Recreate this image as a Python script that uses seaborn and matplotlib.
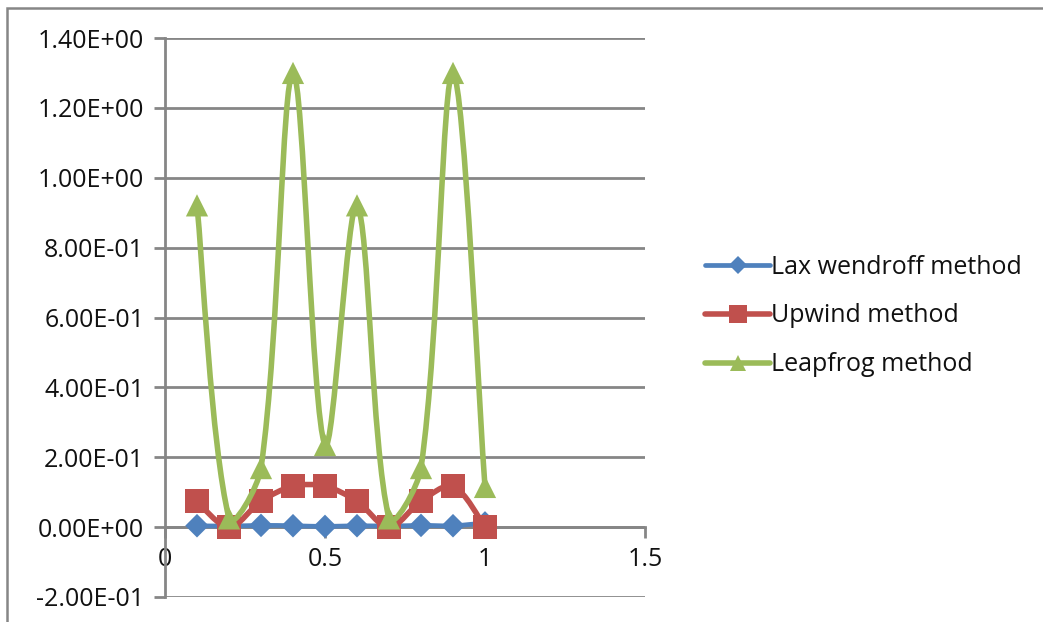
import numpy as np
import pandas as pd
import matplotlib
matplotlib.use("Agg")
import matplotlib.pyplot as plt
from matplotlib.path import Path
from matplotlib.patches import PathPatch, Rectangle
from matplotlib.lines import Line2D
import seaborn as sns

# Error per grid point for three advection schemes
x = [0.1, 0.2, 0.3, 0.4, 0.5, 0.6, 0.7, 0.8, 0.9, 1.0]
lax_wendroff = [0.004, 0.003, 0.005, 0.004, 0.002, 0.004, 0.003, 0.005, 0.004, 0.012]
upwind = [0.074, 0.0, 0.074, 0.117, 0.117, 0.074, 0.0, 0.074, 0.117, 0.0]
leapfrog = [0.921, 0.025, 0.169, 1.30, 0.235, 0.921, 0.025, 0.169, 1.30, 0.115]

series_names = ["Lax wendroff method", "Upwind method", "Leapfrog method"]
series_values = [lax_wendroff, upwind, leapfrog]
colors = ["#4F81BD", "#C0504D", "#9BBB59"]
markers = ["D", "s", "^"]
marker_sizes = [12, 17, 16]
line_widths = [3.4, 4.0, 4.0]

y_ticks = [-0.2, 0.0, 0.2, 0.4, 0.6, 0.8, 1.0, 1.2, 1.4]
y_tick_labels = ["-2.00E-01", "0.00E+00", "2.00E-01", "4.00E-01", "6.00E-01",
                 "8.00E-01", "1.00E+00", "1.20E+00", "1.40E+00"]
x_ticks = [0, 0.5, 1, 1.5]
x_tick_labels = ["0", "0.5", "1", "1.5"]

sns.set_theme(style="white")
plt.rcParams["font.family"] = ["Open Sans", "DejaVu Sans"]

frame_gray = "#868686"
text_color = "#111111"
font_size = 18

fig = plt.figure(figsize=(10.43, 6.22), dpi=100)
ax = fig.add_axes([165 / 1043, 1 - 597 / 622, 480 / 1043, 559 / 622])
ax.set_xlim(0, 1.5)
ax.set_ylim(-0.2, 1.4)

df = pd.DataFrame({
    "x": np.tile(x, 3),
    "y": np.concatenate(series_values),
    "method": np.repeat(series_names, len(x)),
})


def smooth_path(xs, ys, tension=1 / 3):
    """Smoothed Bezier path through the points.

    Tangents follow the neighbouring points; each control arm is scaled by
    the length of its own segment (measured on screen), so short segments
    next to long ones do not overshoot.
    """
    pts = ax.transData.transform(np.column_stack([xs, ys]).astype(float))
    n = len(pts)
    seg = np.linalg.norm(np.diff(pts, axis=0), axis=1)
    verts = [pts[0]]
    codes = [Path.MOVETO]
    for i in range(n - 1):
        p1, p2 = pts[i], pts[i + 1]
        # outgoing arm at p1
        if i > 0:
            t1 = pts[i + 1] - pts[i - 1]
            w1 = seg[i] / (seg[i - 1] + seg[i])
            c1 = p1 + t1 * tension * w1
        else:
            c1 = p1 + (p2 - p1) * tension * 0.5
        # incoming arm at p2
        if i + 2 < n:
            t2 = pts[i + 2] - pts[i]
            w2 = seg[i] / (seg[i] + seg[i + 1])
            c2 = p2 - t2 * tension * w2
        else:
            c2 = p2 - (p2 - p1) * tension * 0.5
        verts += [c1, c2, p2]
        codes += [Path.CURVE4] * 3
    verts = ax.transData.inverted().transform(np.array(verts))
    return Path(verts, codes)


handles = []
for k, name in enumerate(series_names):
    sub = df[df["method"] == name]
    patch = PathPatch(smooth_path(sub["x"].values, sub["y"].values),
                      facecolor="none", edgecolor=colors[k],
                      lw=line_widths[k], capstyle="round", joinstyle="round",
                      zorder=3 + 2 * k)
    ax.add_patch(patch)
    sns.scatterplot(data=sub, x="x", y="y", marker=markers[k],
                    s=marker_sizes[k] ** 2, color=colors[k], edgecolor="none",
                    linewidth=0, legend=False, ax=ax, zorder=4 + 2 * k)
    handles.append(Line2D([0], [0], color=colors[k], lw=line_widths[k],
                          marker=markers[k], markersize=marker_sizes[k] * 0.75,
                          markeredgewidth=0, solid_capstyle="round"))

ax.set_xlim(0, 1.5)
ax.set_ylim(-0.2, 1.4)
ax.set_yticks(y_ticks)
ax.set_yticklabels(y_tick_labels)
ax.set_xticks(x_ticks)
ax.set_xticklabels(x_tick_labels)
ax.set_xlabel("")
ax.set_ylabel("")

ax.yaxis.grid(True, color=frame_gray, lw=2.0)
ax.xaxis.grid(False)
ax.set_axisbelow(True)

for side in ["top", "right"]:
    ax.spines[side].set_visible(False)
ax.spines["left"].set_color(frame_gray)
ax.spines["left"].set_linewidth(2.0)
ax.spines["bottom"].set_position(("data", 0))
ax.spines["bottom"].set_color(frame_gray)
ax.spines["bottom"].set_linewidth(2.0)

ax.tick_params(axis="y", direction="out", length=8, width=2.0, color=frame_gray,
               left=True, pad=7, labelsize=font_size, labelcolor=text_color)
ax.tick_params(axis="x", direction="out", length=8, width=2.0, color=frame_gray,
               bottom=True, pad=6, labelsize=font_size, labelcolor=text_color)

leg = fig.legend(handles, series_names, loc="center left",
                 bbox_to_anchor=(705 / 1043, 1 - 316 / 622), frameon=False,
                 fontsize=font_size, handlelength=2.6, handletextpad=0.05,
                 labelspacing=0.95, borderaxespad=0, borderpad=0)
for t in leg.get_texts():
    t.set_color(text_color)

# Outer chart border
fig.patches.append(Rectangle((7 / 1043, -0.2), 1.2, 1 - 8 / 622 + 0.2,
                             transform=fig.transFigure, fill=False,
                             edgecolor=frame_gray, lw=1.8, zorder=0))

fig.savefig("out.png", dpi=100)
